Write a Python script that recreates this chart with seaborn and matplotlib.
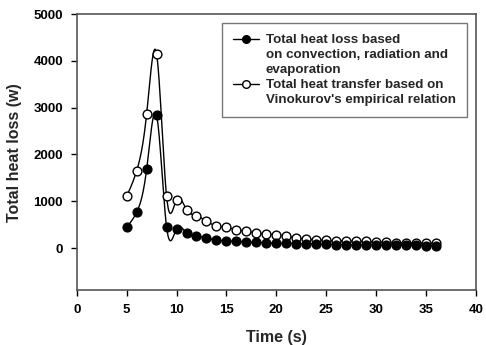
import numpy as np
import pandas as pd
import matplotlib
matplotlib.use("Agg")
import matplotlib.pyplot as plt
from matplotlib.lines import Line2D
import seaborn as sns

time_s = list(range(5, 37))
heat_loss_conv = [450, 764, 1680, 2840, 450, 408, 322, 250, 215, 170, 155, 142, 128, 120,
                  112, 107, 100, 95, 90, 85, 80, 75, 72, 70, 68, 65, 62, 60, 58, 55, 52, 50]
heat_vinokurov = [1107, 1650, 2860, 4150, 1107, 1036, 822, 693, 571, 478, 442, 393, 356, 322,
                  300, 285, 250, 215, 193, 178, 163, 155, 150, 145, 140, 130, 120, 115, 110,
                  105, 102, 100]

label_a = ["Total heat loss based", "on convection, radiation and", "evaporation"]
label_b = ["Total heat transfer based on", "Vinokurov's empirical relation"]


def natural_spline(x, y, n=20):
    x = np.asarray(x, float)
    y = np.asarray(y, float)
    m = len(x)
    h = np.diff(x)
    A = np.zeros((m, m))
    b = np.zeros(m)
    A[0, 0] = 1
    A[-1, -1] = 1
    for i in range(1, m - 1):
        A[i, i - 1] = h[i - 1]
        A[i, i] = 2 * (h[i - 1] + h[i])
        A[i, i + 1] = h[i]
        b[i] = 3 * ((y[i + 1] - y[i]) / h[i] - (y[i] - y[i - 1]) / h[i - 1])
    c = np.linalg.solve(A, b)
    xs, ys = [], []
    for i in range(m - 1):
        t = np.linspace(0, h[i], n, endpoint=False)
        bi = (y[i + 1] - y[i]) / h[i] - h[i] * (2 * c[i] + c[i + 1]) / 3
        di = (c[i + 1] - c[i]) / (3 * h[i])
        xs.append(x[i] + t)
        ys.append(y[i] + bi * t + c[i] * t ** 2 + di * t ** 3)
    xs.append([x[-1]])
    ys.append([y[-1]])
    return np.concatenate(xs), np.concatenate(ys)


sns.set_theme(style="white")
plt.rcParams['font.family'] = ['Liberation Sans', 'DejaVu Sans']
plt.rcParams['font.weight'] = 'bold'

fig = plt.figure(figsize=(4.86, 3.45), dpi=100)
ax = fig.add_axes([0.158, 0.159, 0.821, 0.800])

for yv, fc in [(heat_vinokurov, 'white'), (heat_loss_conv, 'black')]:
    sx, sy = natural_spline(time_s, yv)
    curve = pd.DataFrame({'t': sx, 'q': sy})
    sns.lineplot(data=curve, x='t', y='q', ax=ax, color='black', linewidth=1.0,
                 sort=False, estimator=None, zorder=2)
    pts = pd.DataFrame({'t': time_s, 'q': yv})
    sns.scatterplot(data=pts, x='t', y='q', ax=ax, s=40, color=fc,
                    edgecolor='black', linewidth=1.0, zorder=3)

ax.set_xlim(0, 40)
ax.set_ylim(-900, 5000)
ax.set_xticks(range(0, 41, 5))
ax.set_yticks(range(0, 5001, 1000))
ax.tick_params(axis='both', which='both', direction='out', length=4, width=1,
               labelsize=9.5, colors='black', bottom=True, left=True, pad=6)
for lab in ax.get_xticklabels() + ax.get_yticklabels():
    lab.set_fontweight('bold')
for sp in ax.spines.values():
    sp.set_color('#555555')
    sp.set_linewidth(1.2)
ax.set_xlabel("Time (s)", fontsize=11.5, fontweight='bold', labelpad=10)
ax.set_ylabel("Total heat loss (w)", fontsize=11.5, fontweight='bold', labelpad=8)

h_filled = Line2D([0], [0], color='black', lw=1, marker='o', markersize=5.5,
                  markerfacecolor='black', markeredgecolor='black')
h_open = Line2D([0], [0], color='black', lw=1, marker='o', markersize=5.5,
                markerfacecolor='white', markeredgecolor='black')
h_blank = Line2D([0], [0], color='none', lw=0)
handles = [h_filled] + [h_blank] * (len(label_a) - 1) + [h_open] + [h_blank] * (len(label_b) - 1)
labels = label_a + label_b
leg = ax.legend(handles, labels, loc='upper right',
                bbox_to_anchor=(0.977, 0.967), frameon=True,
                fancybox=False, edgecolor='#555555', handlelength=2.0,
                handletextpad=0.5, borderpad=0.8, labelspacing=0.2,
                borderaxespad=0.0,
                prop={'weight': 'bold', 'size': 9.6})
leg.get_frame().set_linewidth(1.0)

fig.savefig("out.png", dpi=100)
